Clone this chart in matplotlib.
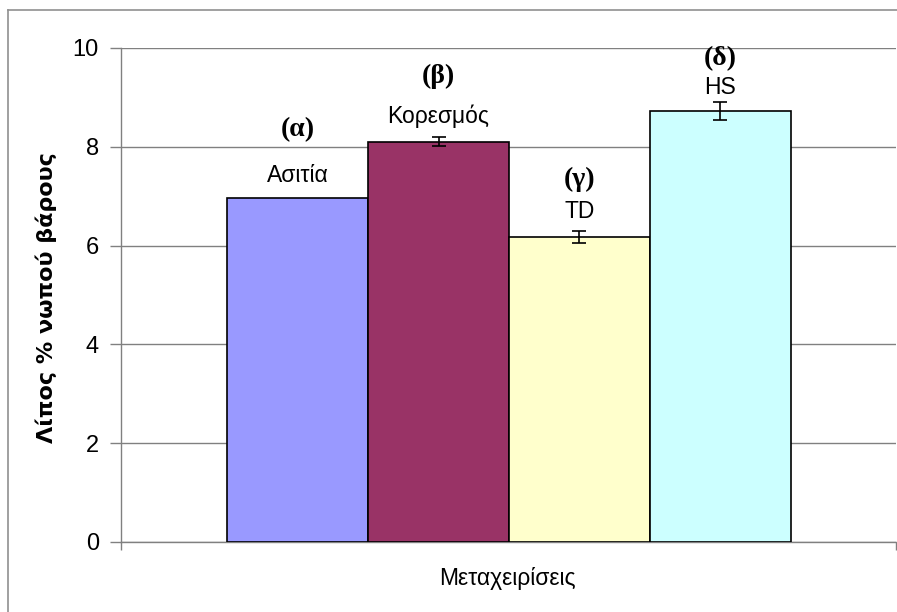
import matplotlib
matplotlib.use("Agg")
import matplotlib.pyplot as plt
from matplotlib.lines import Line2D

categories = ["Ασιτία", "Κορεσμός", "TD", "HS"]
letters = ["(α)", "(β)", "(γ)", "(δ)"]
values = [6.97, 8.10, 6.18, 8.72]
errors = [None, 0.09, 0.12, 0.18]
colors = ["#9999FF", "#993366", "#FFFFCC", "#CCFFFF"]
yticks = [0, 2, 4, 6, 8, 10]

plt.rcParams['font.family'] = ['Liberation Sans', 'DejaVu Sans']

fig = plt.figure(figsize=(8.97, 6.12), dpi=100)
ax = fig.add_axes([121/897, 1-542/612, (896-121)/897, (542-48)/612])

xs = list(range(len(categories)))
ax.bar(xs, values, width=1.0, color=colors, edgecolor="black", linewidth=1.2, zorder=3)
for x, v, e in zip(xs, values, errors):
    if e is not None:
        ax.errorbar(x, v, yerr=e, fmt="none", ecolor="black", elinewidth=1.2,
                    capsize=5, capthick=1.2, zorder=4)

# labels above bars
name_off = [0.45, 0.51, 0.51, 0.49]
let_off = [1.38, 1.32, 1.15, 1.07]
for x, v, n, l, no, lo in zip(xs, values, categories, letters, name_off, let_off):
    ax.text(x, v + no, n, ha="center", va="center", fontsize=16.5, zorder=5)
    ax.text(x, v + lo, l, ha="center", va="center", fontsize=20,
            fontweight="bold", family=["Liberation Serif", "DejaVu Serif"], zorder=5)

ax.set_ylim(0, 10)
ax.set_xlim(-1.252, 4.245)
ax.set_yticks(yticks)
ax.set_yticklabels([str(t) for t in yticks], fontsize=17)
ax.yaxis.grid(True, color="#808080", linewidth=1.0, zorder=0)
ax.set_xticks([-1.252, 4.245])
ax.set_xticklabels(["", ""])
ax.tick_params(axis="y", length=8, width=1, color="#808080", pad=8)
ax.tick_params(axis="x", length=6, width=1, color="#808080")
for s in ["top", "right"]:
    ax.spines[s].set_visible(False)
for s in ["left", "bottom"]:
    ax.spines[s].set_color("#808080")
    ax.spines[s].set_linewidth(1.0)

fig.text(46/897, 1-298/612, "Λίπος % νωπού βάρους", rotation=90, ha="center", va="center",
         fontsize=16, fontweight="bold", family=["DejaVu Sans"])
fig.text(507/897, 1-579/612, "Μεταχειρίσεις", ha="center", va="center", fontsize=16.5)

# outer chart border
fig.add_artist(Line2D([8/897, 8/897], [0, 1-10/612], transform=fig.transFigure, color="#909090", lw=1.2))
fig.add_artist(Line2D([8/897, 1], [1-10/612, 1-10/612], transform=fig.transFigure, color="#909090", lw=1.2))

fig.savefig("out.png", dpi=100)
